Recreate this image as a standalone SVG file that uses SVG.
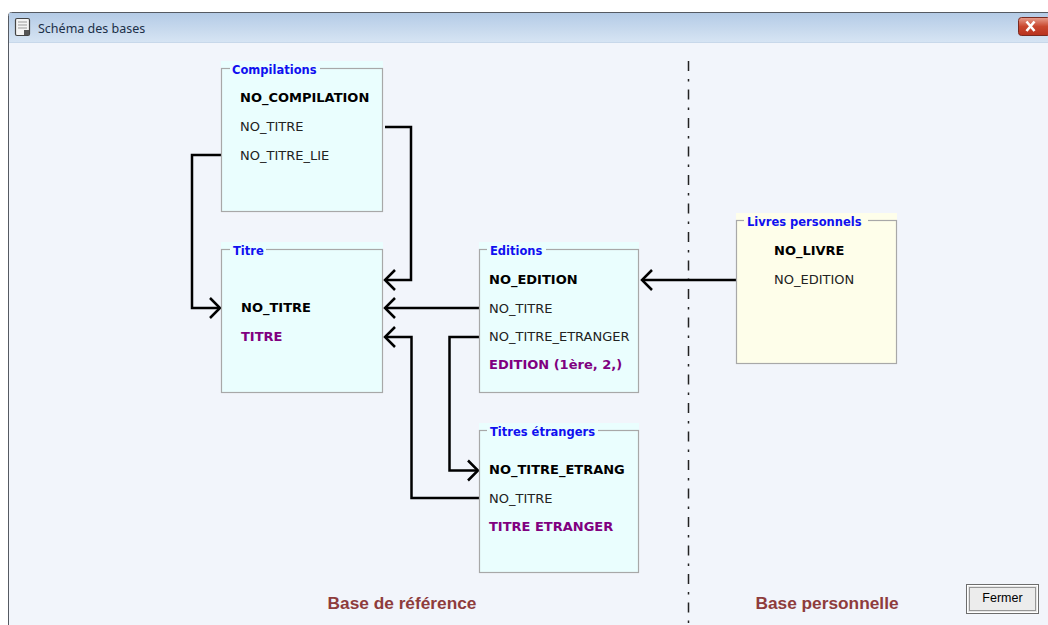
<svg xmlns="http://www.w3.org/2000/svg" width="1048" height="625" viewBox="0 0 1048 625">
<defs>
<linearGradient id="tb" x1="0" y1="0" x2="0" y2="1">
<stop offset="0" stop-color="#b4cbe6"/>
<stop offset="1" stop-color="#d6e4f3"/>
</linearGradient>
<linearGradient id="cl" x1="0" y1="0" x2="0" y2="1">
<stop offset="0" stop-color="#e8a090"/>
<stop offset="0.5" stop-color="#c9472f"/>
<stop offset="1" stop-color="#b8321e"/>
</linearGradient>
<marker id="ah" viewBox="-12 -12 14 24" markerWidth="14" markerHeight="24" refX="0" refY="0" orient="auto" markerUnits="userSpaceOnUse">
<path d="M-10,-10 L0,0 L-10,10" fill="none" stroke="#000" stroke-width="2.5"/>
</marker>
</defs>
<style>
.cfill{fill:#eafefe}
.yfill{fill:#fefeea}
.bord{fill:none;stroke:#a8a8a8;stroke-width:1.2}
.title{font-family:"DejaVu Sans",sans-serif;font-weight:bold;font-size:11.5px;fill:#1010f0}
.key{font-family:"DejaVu Sans",sans-serif;font-weight:bold;font-size:13px;fill:#000}
.fld{font-family:"DejaVu Sans",sans-serif;font-size:13px;fill:#222}
.lbl{font-family:"DejaVu Sans",sans-serif;font-weight:bold;font-size:13px;fill:#800080}
.base{font-family:"Liberation Sans",Arial,sans-serif;font-weight:bold;font-size:17.3px;fill:#8e3c3c}
.conn{fill:none;stroke:#000;stroke-width:2.5;marker-end:url(#ah)}
</style>
<!-- window -->
<rect x="0" y="0" width="1048" height="625" fill="#ffffff"/>
<rect x="8.5" y="12.5" width="1045" height="620" rx="3" fill="#f2f5fb" stroke="#555a62" stroke-width="1"/>
<rect x="9" y="13" width="1039" height="29" fill="url(#tb)"/>
<line x1="9" y1="42.5" x2="1048" y2="42.5" stroke="#c8d8ea"/>
<g id="icon">
<rect x="15.5" y="18.5" width="14" height="17" rx="1.5" fill="#f4f4f4" stroke="#444" stroke-width="1.2"/>
<line x1="18" y1="22" x2="27" y2="22" stroke="#999"/>
<line x1="18" y1="25" x2="27" y2="25" stroke="#999"/>
<line x1="18" y1="28" x2="27" y2="28" stroke="#999"/>
<rect x="24" y="30" width="5" height="5" fill="#555"/>
</g>
<text x="38" y="33" font-family="'Noto Sans',sans-serif" font-size="12.5" fill="#1b2f48">Schéma des bases</text>
<g id="close">
<rect x="1018.5" y="17.5" width="32" height="18" rx="3" fill="url(#cl)" stroke="#7a2a20"/>
<path d="M1026.5,21.5 L1034.5,31 M1034.5,21.5 L1026.5,31" stroke="#ffffff" stroke-width="2.6"/>
</g>

<!-- separator -->
<line x1="688.5" y1="61" x2="688.5" y2="625" stroke="#222" stroke-width="1.5" stroke-dasharray="10 8 2.5 8"/>

<!-- connectors -->
<g id="connectors">
<polyline class="conn" points="385,127 411,127 411,280 385,280"/>
<polyline class="conn" points="221,155 192,155 192,308 220,308"/>
<polyline class="conn" points="479,308 385,308"/>
<polyline class="conn" points="479,337 449.5,337 449.5,470.5 478,470.5"/>
<polyline class="conn" points="479,498 411.5,498 411.5,337 385,337"/>
<polyline class="conn" points="736,280 642,280"/>
</g>

<!-- nodes -->
<g id="compilations">
<rect class="cfill" x="221" y="61" width="162" height="151"/>
<rect class="bord" x="221.5" y="68.5" width="161" height="143"/>
<rect class="cfill" x="230" y="64" width="90" height="8"/>
<text class="title" x="232" y="74">Compilations</text>
<text class="key" x="240" y="102">NO_COMPILATION</text>
<text class="fld" x="240" y="131">NO_TITRE</text>
<text class="fld" x="240" y="160">NO_TITRE_LIE</text>
</g>
<g id="titre">
<rect class="cfill" x="221" y="242" width="162" height="151"/>
<rect class="bord" x="221.5" y="249.5" width="161" height="143"/>
<rect class="cfill" x="230" y="245" width="36" height="8"/>
<text class="title" x="233" y="255">Titre</text>
<text class="key" x="241" y="312">NO_TITRE</text>
<text class="lbl" x="241" y="341">TITRE</text>
</g>
<g id="editions">
<rect class="cfill" x="479" y="242" width="160" height="151"/>
<rect class="bord" x="479.5" y="249.5" width="159" height="143"/>
<rect class="cfill" x="487" y="245" width="59" height="8"/>
<text class="title" x="490" y="255">Editions</text>
<text class="key" x="489" y="284">NO_EDITION</text>
<text class="fld" x="489" y="312.5">NO_TITRE</text>
<text class="fld" x="489" y="341">NO_TITRE_ETRANGER</text>
<text class="lbl" x="489" y="369">EDITION (1ère, 2,)</text>
</g>
<g id="titres-etrangers">
<rect class="cfill" x="479" y="423" width="160" height="150"/>
<rect class="bord" x="479.5" y="430.5" width="159" height="142"/>
<rect class="cfill" x="487" y="426" width="111" height="8"/>
<text class="title" x="490" y="436">Titres étrangers</text>
<text class="key" x="489" y="474">NO_TITRE_ETRANG</text>
<text class="fld" x="489" y="502.5">NO_TITRE</text>
<text class="lbl" x="489" y="531">TITRE ETRANGER</text>
</g>
<g id="livres-personnels">
<rect class="yfill" x="736" y="213" width="161" height="151"/>
<rect class="bord" x="736.5" y="220.5" width="160" height="143"/>
<rect class="yfill" x="744" y="216" width="124" height="8"/>
<text class="title" x="747" y="226">Livres personnels</text>
<text class="key" x="774" y="255">NO_LIVRE</text>
<text class="fld" x="774" y="283.5">NO_EDITION</text>
</g>

<!-- section labels -->
<text class="base" x="402" y="609" text-anchor="middle">Base de référence</text>
<text class="base" x="827" y="609" text-anchor="middle">Base personnelle</text>

<g id="fermer">
<rect x="966.5" y="584.5" width="72" height="29" fill="#e6e6e6" stroke="#6d6d6d"/>
<rect x="967.5" y="585.5" width="70" height="27" fill="none" stroke="#ffffff"/>
<rect x="969.5" y="587.5" width="66" height="23" fill="#ececec" stroke="#444" stroke-width="1" stroke-dasharray="1 1"/>
<text x="1002.5" y="602" text-anchor="middle" font-family="'Liberation Sans',Arial,sans-serif" font-size="12.5" fill="#000">Fermer</text>
</g>
</svg>
